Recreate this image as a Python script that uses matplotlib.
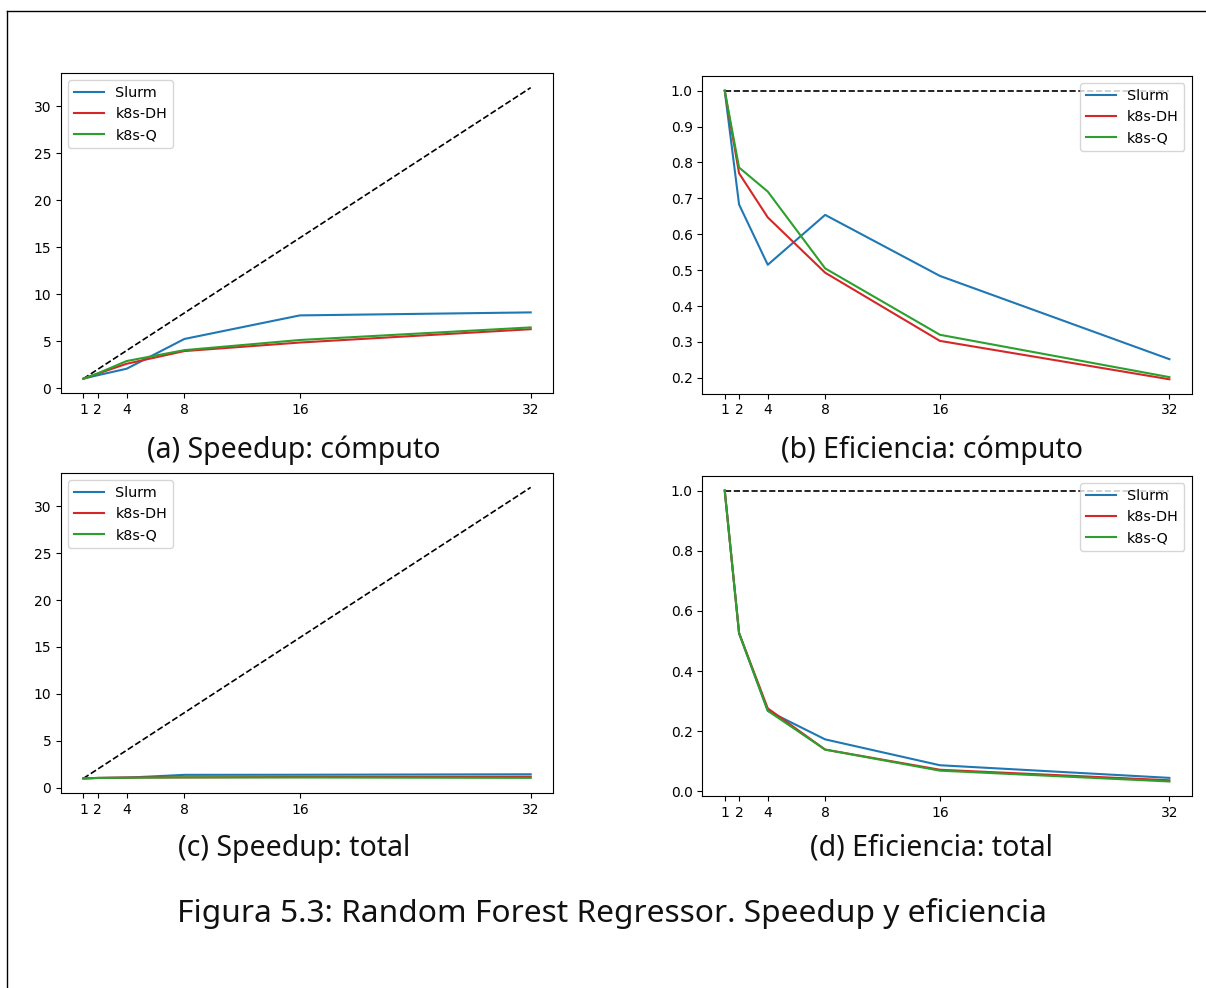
import matplotlib
matplotlib.use("Agg")
import matplotlib.pyplot as plt
from matplotlib.lines import Line2D

# número de nodos
nodos = [1, 2, 4, 8, 16, 32]

# speedup cómputo
sp_comp_slurm = [1.0, 1.37, 2.06, 5.23, 7.74, 8.06]
sp_comp_dh = [1.0, 1.54, 2.59, 3.94, 4.85, 6.27]
sp_comp_q = [1.0, 1.57, 2.88, 4.04, 5.12, 6.46]

# eficiencia cómputo
ef_comp_slurm = [1.0, 0.683, 0.515, 0.654, 0.484, 0.252]
ef_comp_dh = [1.0, 0.77, 0.647, 0.493, 0.303, 0.196]
ef_comp_q = [1.0, 0.786, 0.719, 0.505, 0.32, 0.202]

# speedup total
sp_tot_slurm = [1.0, 1.05, 1.08, 1.38, 1.39, 1.44]
sp_tot_dh = [1.0, 1.05, 1.10, 1.11, 1.15, 1.18]
sp_tot_q = [1.0, 1.05, 1.07, 1.11, 1.10, 1.06]

# eficiencia total
ef_tot_slurm = [1.0, 0.526, 0.268, 0.173, 0.087, 0.045]
ef_tot_dh = [1.0, 0.526, 0.276, 0.139, 0.072, 0.037]
ef_tot_q = [1.0, 0.526, 0.268, 0.139, 0.069, 0.033]

etiquetas = ['Slurm', 'k8s-DH', 'k8s-Q']
colores = ['tab:blue', 'tab:red', 'tab:green']

subtitulos = ['(a) Speedup: cómputo', '(b) Eficiencia: cómputo',
              '(c) Speedup: total', '(d) Eficiencia: total']
titulo = 'Figura 5.3: Random Forest Regressor. Speedup y eficiencia'

fig = plt.figure(figsize=(12.06, 9.88), dpi=100)

# posiciones de los cuatro paneles [left, bottom, width, height]
pos = [
    [0.0506, 0.6020, 0.4080, 0.3240],
    [0.5825, 0.6015, 0.4056, 0.3213],
    [0.0506, 0.1974, 0.4080, 0.3240],
    [0.5825, 0.1943, 0.4056, 0.3239],
]

datos = [
    (sp_comp_slurm, sp_comp_dh, sp_comp_q),
    (ef_comp_slurm, ef_comp_dh, ef_comp_q),
    (sp_tot_slurm, sp_tot_dh, sp_tot_q),
    (ef_tot_slurm, ef_tot_dh, ef_tot_q),
]

for i, (p, series) in enumerate(zip(pos, datos)):
    ax = fig.add_axes(p)
    if i % 2 == 0:
        ax.plot(nodos, nodos, 'k--', linewidth=1.2)
    else:
        ax.plot(nodos, [1.0] * len(nodos), 'k--', linewidth=1.2)
    for s, lab, c in zip(series, etiquetas, colores):
        ax.plot(nodos, s, color=c, label=lab, linewidth=1.5)
    ax.set_xticks(nodos)
    ax.legend(loc='upper left' if i % 2 == 0 else 'upper right',
              fontsize=10.3, handlelength=2.1)

# pies de figura
cap_font = dict(family=['Noto Sans', 'DejaVu Sans'], fontsize=20.5, color='#111111')
fig.text(0.2435, 1 - 450 / 988, subtitulos[0], ha='center', va='center', **cap_font)
fig.text(0.7725, 1 - 450 / 988, subtitulos[1], ha='center', va='center', **cap_font)
fig.text(0.2435, 1 - 848 / 988, subtitulos[2], ha='center', va='center', **cap_font)
fig.text(0.7725, 1 - 848 / 988, subtitulos[3], ha='center', va='center', **cap_font)
fig.text(0.5075, 1 - 913 / 988, titulo, ha='center', va='center',
         family=['Noto Sans', 'DejaVu Sans'], fontsize=22.8, color='#111111')

# borde de la página
fig.add_artist(Line2D([7 / 1206, 1.0], [1 - 11 / 988, 1 - 11 / 988],
                      color='black', linewidth=1.0))
fig.add_artist(Line2D([7 / 1206, 7 / 1206], [0.0, 1 - 11 / 988],
                      color='black', linewidth=1.0))

fig.savefig('out.png', dpi=100)
